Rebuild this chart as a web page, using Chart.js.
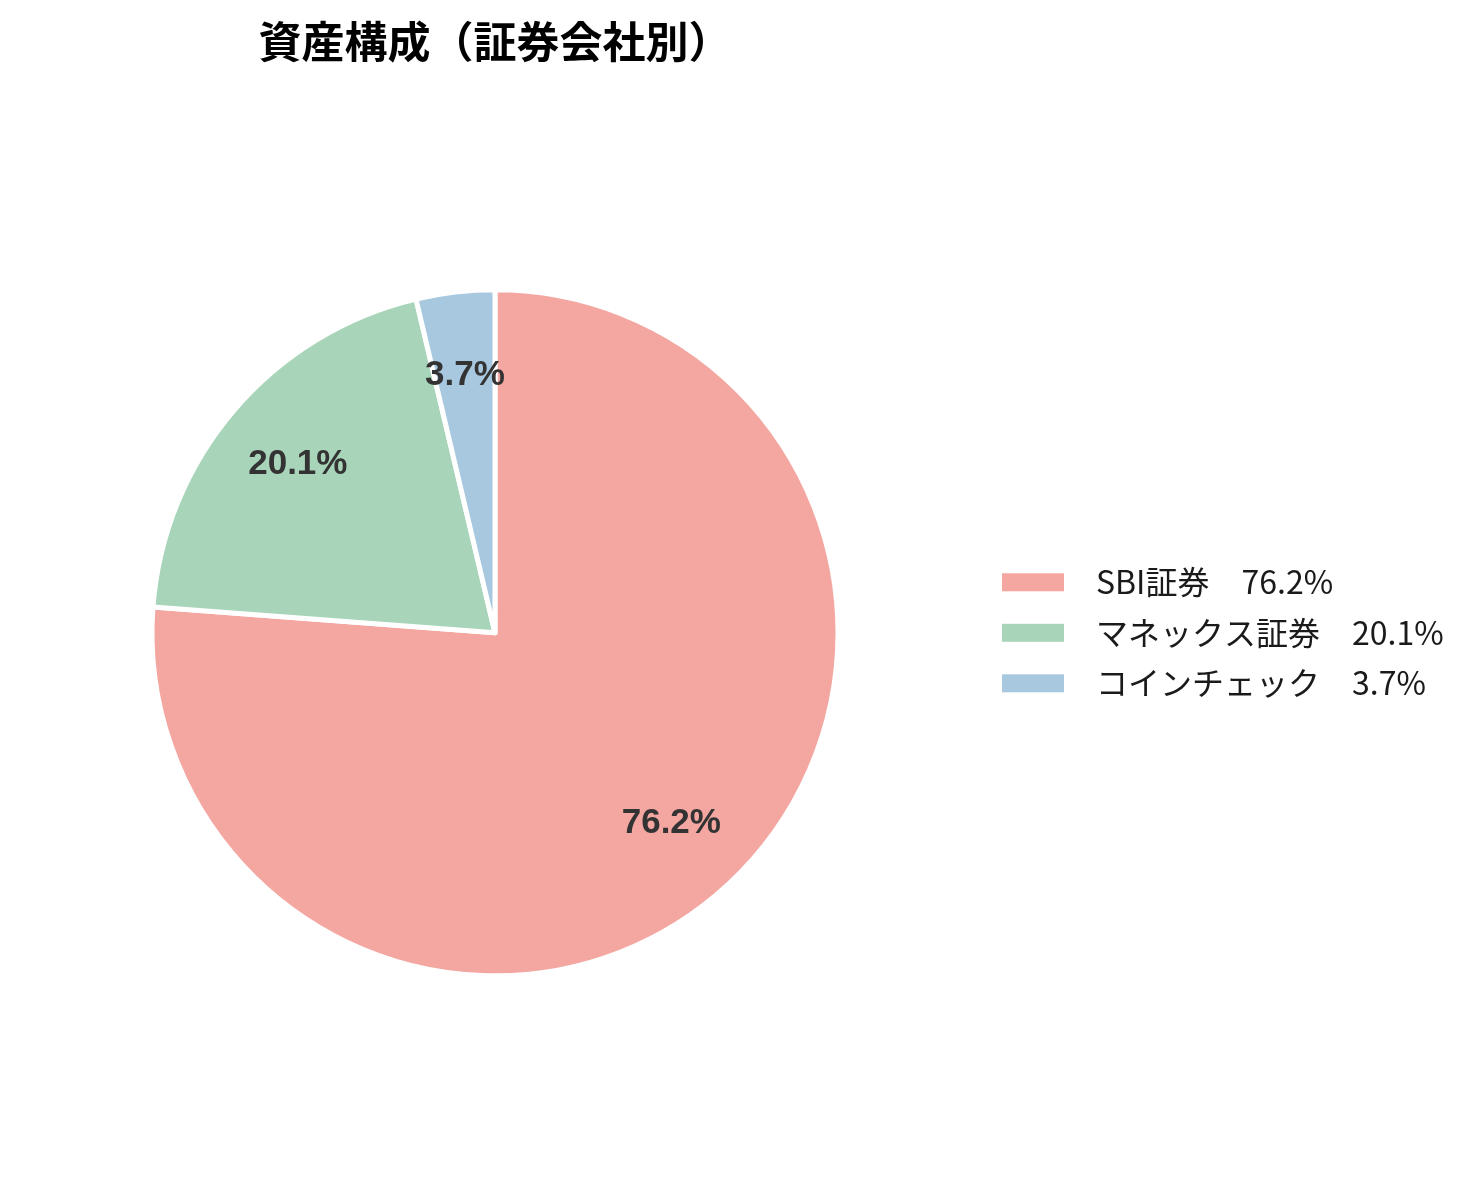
<!DOCTYPE html>
<html lang="ja">
<head>
<meta charset="utf-8">
<title>資産構成（証券会社別）</title>
<script src="https://cdn.jsdelivr.net/npm/chart.js@4.4.1/dist/chart.umd.min.js"></script>
<style>
  html, body { margin: 0; padding: 0; background: #fff; }
  #wrap { width: 1480px; height: 1180px; }
</style>
</head>
<body>
<div id="wrap"><canvas id="assetChart" width="1480" height="1180"></canvas></div>
<script>
// 証券会社ごとの構成比（%）
const brokers = ['SBI証券', 'マネックス証券', 'コインチェック'];
const shares = [76.2, 20.1, 3.7];
const sliceColors = ['#F4A6A1', '#A8D5BA', '#A8C8E0'];

const jpFont = '"Noto Sans CJK JP", "Noto Sans", sans-serif';

// 円の中に%を描く
const pctLabels = {
    id: 'pctLabels',
    afterDatasetsDraw(chart) {
        const ctx = chart.ctx;
        const arcs = chart.getDatasetMeta(0).data;
        ctx.save();
        ctx.font = 'bold 35px "Liberation Sans", Arial, sans-serif';
        ctx.fillStyle = '#333333';
        ctx.textAlign = 'center';
        ctx.textBaseline = 'middle';
        arcs.forEach((arc, i) => {
            const p = arc.getProps(['x', 'y', 'startAngle', 'endAngle', 'outerRadius'], true);
            const mid = (p.startAngle + p.endAngle) / 2;
            const r = p.outerRadius * 0.756;
            ctx.fillText(shares[i].toFixed(1) + '%', p.x + Math.cos(mid) * r, p.y + Math.sin(mid) * r);
        });
        ctx.restore();
    }
};

// 右側の凡例
const sideLegend = {
    id: 'sideLegend',
    afterDraw(chart) {
        const ctx = chart.ctx;
        const cy = (chart.chartArea.top + chart.chartArea.bottom) / 2;
        const rowGap = 50.5;
        ctx.save();
        ctx.font = '32px ' + jpFont;
        ctx.textBaseline = 'middle';
        ctx.textAlign = 'left';
        brokers.forEach((name, i) => {
            const y = cy + (i - 1) * rowGap;
            ctx.fillStyle = sliceColors[i];
            ctx.fillRect(1002, y - 9, 62, 18);
            ctx.fillStyle = '#1a1a1a';
            ctx.fillText(name + '　' + shares[i].toFixed(1) + '%', 1096, y);
        });
        ctx.restore();
    }
};

new Chart(document.getElementById('assetChart'), {
    type: 'pie',
    data: {
        labels: brokers,
        datasets: [{
            data: shares,
            backgroundColor: sliceColors,
            borderColor: '#ffffff',
            borderWidth: 5,
            borderJoinStyle: 'round'
        }]
    },
    options: {
        responsive: false,
        animation: false,
        radius: 343,
        layout: {
            padding: { left: 0, right: 490, top: 8, bottom: 10 }
        },
        plugins: {
            legend: { display: false },
            tooltip: { enabled: false },
            title: {
                display: true,
                text: '資産構成（証券会社別）',
                color: '#000000',
                font: { family: jpFont, size: 43, weight: 'bold' },
                padding: { top: 8, bottom: 28 }
            }
        }
    },
    plugins: [pctLabels, sideLegend]
});
</script>
</body>
</html>
